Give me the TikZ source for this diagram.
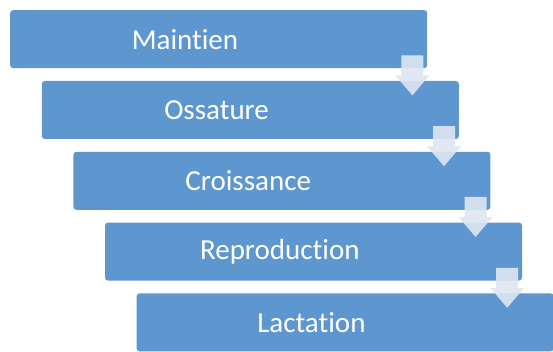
\documentclass[tikz,border=0pt]{standalone}
\usepackage{fontspec}
\setmainfont[Ligatures=NoCommon]{Carlito}
\usepackage{tikz}
\usetikzlibrary{positioning}
\definecolor{boxblue}{RGB}{94,150,208}
\definecolor{arrowpale}{RGB}{222,230,242}
\begin{document}
\begin{tikzpicture}[x=1pt,y=-1pt,
                stage/.style={fill=boxblue, rounded corners=3pt, minimum width=417pt, minimum height=58pt, inner sep=0pt, anchor=north west},
                stagetext/.style={text=white, inner sep=0pt, font=\fontsize{29}{30}\selectfont},
                downarrow/.style={fill=arrowpale, fill opacity=0.9}]
                \useasboundingbox (0,0) rectangle (553,352);
                \node[stage] (b1) at (10,10) {};
                \node[stage] (b2) at (41.6,80.8) {};
                \node[stage] (b3) at (73.2,151.6) {};
                \node[stage] (b4) at (104.8,222.4) {};
                \node[stage] (b5) at (136.4,293.2) {};
                \node[stagetext] (t1) at ([xshift=175pt]b1.west) {Maintien};
                \node[stagetext] (t2) at ([xshift=175pt]b2.west) {Ossature};
                \node[stagetext] (t3) at ([xshift=175pt]b3.west) {Croissance};
                \node[stagetext] (t4) at ([xshift=175pt]b4.west) {Reproduction};
                \node[stagetext] (t5) at ([xshift=175pt]b5.west) {Lactation};
                % arrows from each box into the next one
                \fill[downarrow] ([shift={(-26pt,13pt)}]b1.south east) -- ([shift={(-4pt,13pt)}]b1.south east) -- ([shift={(-4pt,-7pt)}]b1.south east) -- ([shift={(2pt,-7pt)}]b1.south east) -- ([shift={(-15pt,-27pt)}]b1.south east) -- ([shift={(-32pt,-7pt)}]b1.south east) -- ([shift={(-26pt,-7pt)}]b1.south east) -- cycle;
                \fill[downarrow] ([shift={(-26pt,13pt)}]b2.south east) -- ([shift={(-4pt,13pt)}]b2.south east) -- ([shift={(-4pt,-7pt)}]b2.south east) -- ([shift={(2pt,-7pt)}]b2.south east) -- ([shift={(-15pt,-27pt)}]b2.south east) -- ([shift={(-32pt,-7pt)}]b2.south east) -- ([shift={(-26pt,-7pt)}]b2.south east) -- cycle;
                \fill[downarrow] ([shift={(-26pt,13pt)}]b3.south east) -- ([shift={(-4pt,13pt)}]b3.south east) -- ([shift={(-4pt,-7pt)}]b3.south east) -- ([shift={(2pt,-7pt)}]b3.south east) -- ([shift={(-15pt,-27pt)}]b3.south east) -- ([shift={(-32pt,-7pt)}]b3.south east) -- ([shift={(-26pt,-7pt)}]b3.south east) -- cycle;
                \fill[downarrow] ([shift={(-26pt,13pt)}]b4.south east) -- ([shift={(-4pt,13pt)}]b4.south east) -- ([shift={(-4pt,-7pt)}]b4.south east) -- ([shift={(2pt,-7pt)}]b4.south east) -- ([shift={(-15pt,-27pt)}]b4.south east) -- ([shift={(-32pt,-7pt)}]b4.south east) -- ([shift={(-26pt,-7pt)}]b4.south east) -- cycle;
\end{tikzpicture}
\end{document}
